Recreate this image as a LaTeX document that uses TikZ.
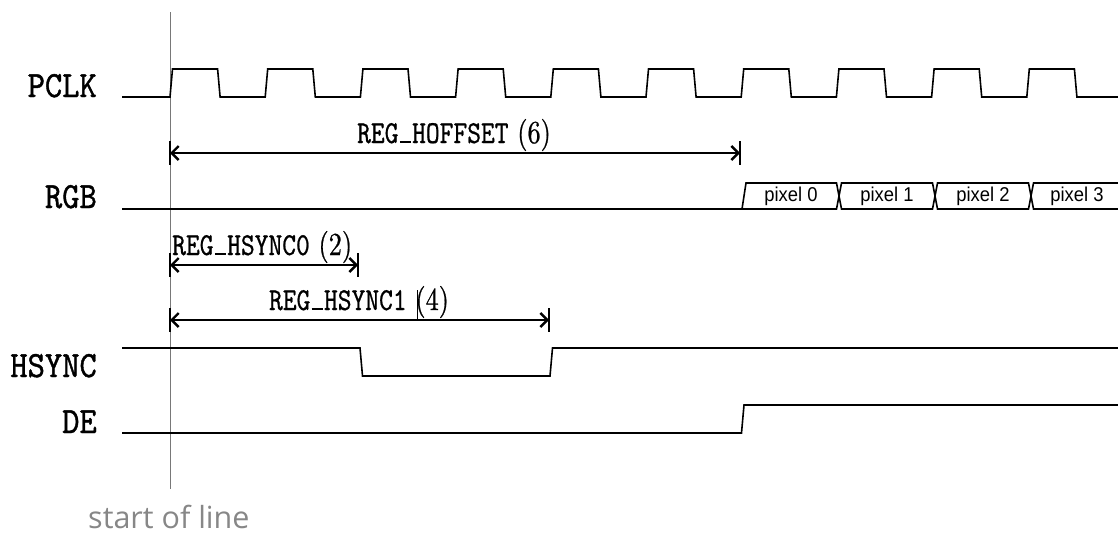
\documentclass[tikz,border=0pt]{standalone}
\usepackage{fontspec}
\usepackage{graphicx}
\newfontfamily\pixfont{Liberation Sans}
\newfontfamily\solfont{Open Sans}
\newfontfamily\sigtt{lmmono10-regular.otf}[FakeBold=1.2]
\newfontfamily\dimtt{lmmono10-regular.otf}[FakeBold=0.8]
\newfontfamily\dimrm{lmroman10-regular.otf}[FakeBold=0.8]
\newcommand\myul{\kern0.05em\vbox{\hrule width 0.42em height 0.05em}\kern0.05em}
\usetikzlibrary{arrows.meta}
\definecolor{linegray}{RGB}{120,120,120}
\definecolor{textgray}{RGB}{135,135,135}
\tikzset{
  sig/.style={line width=1.6pt, line join=miter},
  siglabel/.style={anchor=base east, inner sep=0pt, font=\fontsize{37}{37}\selectfont\sigtt},
  dimline/.style={line width=2.4pt, {Straight Barb[length=7pt,width=14pt]}-{Straight Barb[length=7pt,width=14pt]}},
  dimbar/.style={line width=2.6pt},
  dimlabel/.style={inner sep=0pt, font=\fontsize{32}{32}\selectfont},
  pix/.style={inner sep=0pt, font=\pixfont\fontsize{20}{20}\selectfont},
  startline/.style={line width=1pt, draw=linegray},
}
\begin{document}
\begin{tikzpicture}[x=1pt,y=-1pt]
\useasboundingbox (0,0) rectangle (1118,533);

% start of line marker
\coordinate (sTop) at (170,12);
\coordinate (sBot) at (170,489);
\draw[startline] (sTop) -- (sBot);
\node[anchor=base west, inner sep=0pt, text=textgray, font=\solfont\fontsize{30.5}{30.5}\selectfont] (sol) at (88,528) {start of line};

% signal labels
\node[siglabel] (lPCLK) at (97,97) {\scalebox{0.89}[1]{PCLK}};
\node[siglabel] (lRGB) at (97,208) {\scalebox{0.89}[1]{RGB}};
\node[siglabel] (lHSYNC) at (97,377) {\scalebox{0.89}[1]{HSYNC}};
\node[siglabel] (lDE) at (97,433) {\scalebox{0.89}[1]{DE}};

% PCLK
\draw[sig] (122,97) foreach \k in {0,...,9} {
  -- ({170+95.2*\k},97) -- ({172.5+95.2*\k},69) -- ({217.6+95.2*\k},69) -- ({220.1+95.2*\k},97)
} -- (1118,97);

% RGB
\draw[sig] (122,209) -- (742,209);
\draw[sig] (742,209) -- (746,183) -- (836.5,183) -- (839,196) -- (836.5,209) -- cycle;
\draw[sig] (839,196) -- (841.5,183) -- (932.5,183) -- (935,196) -- (932.5,209) -- (841.5,209) -- cycle;
\draw[sig] (935,196) -- (937.5,183) -- (1028.5,183) -- (1031,196) -- (1028.5,209) -- (937.5,209) -- cycle;
\draw[sig] (1120,183) -- (1033.5,183) -- (1031,196) -- (1033.5,209) -- (1120,209);
\node[pix] (px0) at (791,196) {\scalebox{0.92}[1]{pixel 0}};
\node[pix] (px1) at (887,196) {\scalebox{0.92}[1]{pixel 1}};
\node[pix] (px2) at (983,196) {\scalebox{0.92}[1]{pixel 2}};
\node[pix] (px3) at (1077,196) {\scalebox{0.92}[1]{pixel 3}};

% HSYNC
\draw[sig] (122,348) -- (360,348) -- (362.5,376) -- (550,376) -- (552.5,348) -- (1118,348);

% DE
\draw[sig] (122,433) -- (741.5,433) -- (744,405) -- (1118,405);

% REG_HOFFSET
\coordinate (ho0) at (170,153);
\coordinate (ho1) at (740,153);
\draw[dimline] (ho0) -- (ho1);
\draw[dimbar] (ho0) ++(0,-12) -- ++(0,24);
\draw[dimbar] (ho1) ++(0,-12) -- ++(0,24);
\node[dimlabel, anchor=base] (tho) at (454,143) {\scalebox{0.82}[1]{\dimtt REG\myul HOFFSET\dimrm\ (6)}};

% REG_HSYNC0
\coordinate (h00) at (170,265);
\coordinate (h01) at (358,265);
\draw[dimline] (h00) -- (h01);
\draw[dimbar] (h00) ++(0,-12) -- ++(0,24);
\draw[dimbar] (h01) ++(0,-12) -- ++(0,24);
\node[dimlabel, anchor=base west] (th0) at (172,255) {\scalebox{0.82}[1]{\dimtt REG\myul HSYNC0\dimrm\ (2)}};

% REG_HSYNC1
\coordinate (h10) at (170,320);
\coordinate (h11) at (549,320);
\draw[dimline] (h10) -- (h11);
\draw[dimbar] (h10) ++(0,-12) -- ++(0,24);
\draw[dimbar] (h11) ++(0,-12) -- ++(0,24);
\node[dimlabel, anchor=base] (th1) at (359,310) {\scalebox{0.82}[1]{\dimtt REG\myul HSYNC1\dimrm\ (4)}};
\coordinate (cur0) at (417,290);
\coordinate (cur1) at (417,320);
\draw[line width=0.8pt] (cur0) -- (cur1);
\end{tikzpicture}
\end{document}
